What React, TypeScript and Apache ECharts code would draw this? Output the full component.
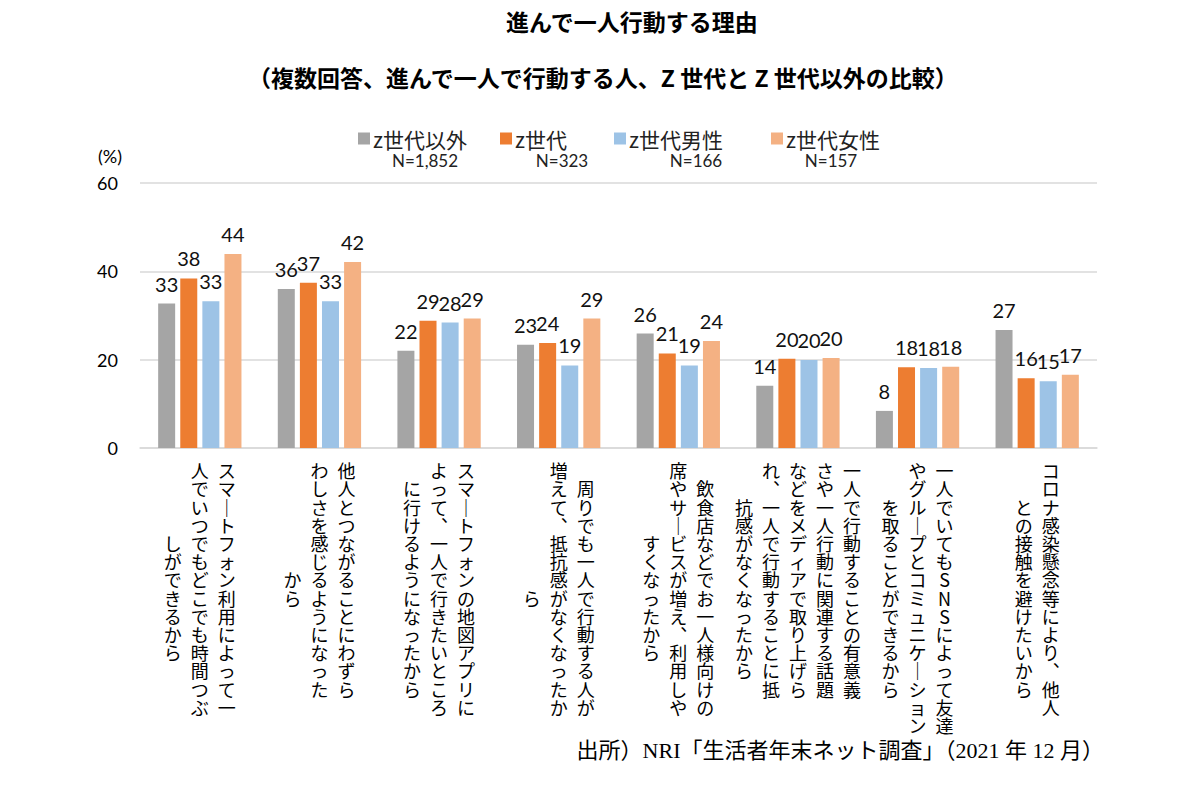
import React, { useEffect, useRef } from "react";
import * as echarts from "echarts";

const titleText = "進んで一人行動する理由";
const subtitleText = "（複数回答、進んで一人で行動する人、Z 世代と Z 世代以外の比較）";
const sourceText = "出所）NRI「生活者年末ネット調査」（2021 年 12 月）";
const unitText = "(%)";

const seriesNames = ["z世代以外", "z世代", "z世代男性", "z世代女性"];
const sampleSizes = ["N=1,852", "N=323", "N=166", "N=157"];
const seriesColors = ["#A5A5A5", "#ED7D31", "#9DC3E6", "#F4B183"];

// each category label, split into its vertical columns (read right to left)
const categoryColumns: string[][] = [
  ["スマートフォン利用によって一", "人でいつでもどこでも時間つぶ", "しができるから"],
  ["他人とつながることにわずら", "わしさを感じるようになった", "から"],
  ["スマートフォンの地図アプリに", "よって、一人で行きたいところ", "に行けるようになったから"],
  ["周りでも一人で行動する人が", "増えて、抵抗感がなくなったか", "ら"],
  ["飲食店などでお一人様向けの", "席やサービスが増え、利用しや", "すくなったから"],
  [
    "一人で行動することの有意義",
    "さや一人行動に関連する話題",
    "などをメディアで取り上げら",
    "れ、一人で行動することに抵",
    "抗感がなくなったから",
  ],
  ["一人でいてもSNSによって友達", "やグループとコミュニケーション", "を取ることができるから"],
  ["コロナ感染懸念等により、他人", "との接触を避けたいから"],
];
const categories = categoryColumns.map((c) => c.join(""));

const nonGenZ = [32.7, 36.0, 22.0, 23.4, 25.9, 14.1, 8.4, 26.7];
const genZ = [38.4, 37.4, 28.8, 23.8, 21.4, 20.2, 18.3, 15.8];
const genZMale = [33.2, 33.2, 28.4, 18.7, 18.7, 19.9, 18.1, 15.1];
const genZFemale = [43.9, 42.1, 29.3, 29.3, 24.2, 20.4, 18.4, 16.6];
const seriesValues = [nonGenZ, genZ, genZMale, genZFemale];

const yMin = 0;
const yMax = 60;
const yInterval = 20;

const legendLefts = [353, 495, 609, 766];
const noteCenters = [425, 562, 696, 831];

const verticalForms: Record<string, string> = { "ー": "｜", "、": "︑" };

const JP = "'Noto Sans CJK JP', 'Noto Sans', sans-serif";
const NUM = "Lato, 'Noto Sans', sans-serif";

function verticalLabel(index: number): string {
  const cols = categoryColumns[index].map((s) =>
    Array.from(s).map((ch) => verticalForms[ch] ?? ch)
  );
  const maxLen = Math.max(...cols.map((c) => c.length));
  const lines: string[] = [];
  for (let r = 0; r < maxLen; r++) {
    let line = "";
    for (let j = cols.length - 1; j >= 0; j--) {
      const col = cols[j];
      const off = Math.round((maxLen - col.length) / 2);
      const k = r - off;
      const ch = k >= 0 && k < col.length ? col[k] : "　";
      line += `{c|${ch}}`;
    }
    lines.push(line);
  }
  return lines.join("\n");
}

export default function App() {
  const ref = useRef<HTMLDivElement>(null);
  useEffect(() => {
    if (!ref.current) return;
    const chart = echarts.init(ref.current, undefined, { renderer: "svg" });
    const option: any = {
      animation: false,
      backgroundColor: "#ffffff",
      grid: { left: 140, right: 103, top: 183, bottom: 352 },
      legend: seriesNames.map((n, i) => ({
        data: [n],
        left: legendLefts[i],
        top: 123,
        icon: "rect",
        itemWidth: 12,
        itemHeight: 12,
        itemGap: 0,
        textStyle: { fontSize: 21, fontFamily: JP, color: "#222", padding: [0, 0, 0, -2] },
      })),
      xAxis: {
        type: "category",
        data: categories,
        axisLine: { show: true, lineStyle: { color: "#D9D9D9", width: 1.5 } },
        axisTick: { show: false },
        axisLabel: {
          interval: 0,
          margin: 13,
          formatter: (_v: string, idx: number) => verticalLabel(idx),
          rich: {
            c: {
              fontSize: 18,
              lineHeight: 18.2,
              width: 27,
              align: "center",
              fontFamily: JP,
              color: "#000",
            },
          },
        },
      },
      yAxis: {
        type: "value",
        min: yMin,
        max: yMax,
        interval: yInterval,
        axisLine: { show: false },
        axisTick: { show: false },
        splitLine: { lineStyle: { color: "#D9D9D9", width: 1.5 } },
        axisLabel: { fontSize: 18, fontFamily: NUM, color: "#000", margin: 22 },
      },
      series: seriesNames.map((n, i) => ({
        name: n,
        type: "bar",
        data: seriesValues[i],
        barWidth: 17,
        barGap: "30%",
        itemStyle: { color: seriesColors[i] },
        label: {
          show: true,
          position: "top",
          distance: 10,
          fontSize: 20,
          fontFamily: NUM,
          color: "#111",
          formatter: (p: any) => String(Math.round(p.value)),
        },
      })),
      graphic: [
        {
          type: "text",
          left: 506,
          top: 9,
          style: { text: titleText, fontSize: 23, fontWeight: "bold", fontFamily: JP, fill: "#000" },
        },
        {
          type: "text",
          left: 248,
          top: 65,
          style: { text: subtitleText, fontSize: 23, fontWeight: "bold", fontFamily: JP, fill: "#000" },
        },
        {
          type: "text",
          left: 98,
          top: 147,
          style: { text: unitText, fontSize: 18, fontFamily: NUM, fill: "#000" },
        },
        ...sampleSizes.map((s, i) => ({
          type: "text",
          x: noteCenters[i],
          y: 160,
          style: {
            text: s,
            fontSize: 17,
            fontFamily: NUM,
            fill: "#222",
            align: "center",
            verticalAlign: "middle",
          },
        })),
        {
          type: "text",
          right: 96,
          top: 739,
          style: {
            text: sourceText,
            fontSize: 22,
            fontFamily: "'Liberation Serif', 'Noto Sans CJK JP', serif",
            fill: "#000",
          },
        },
      ],
    };
    chart.setOption(option);
    return () => chart.dispose();
  }, []);
  return (
    <div
      ref={ref}
      style={{ position: "fixed", left: 0, top: 0, width: 1200, height: 800, background: "#fff" }}
    />
  );
}
